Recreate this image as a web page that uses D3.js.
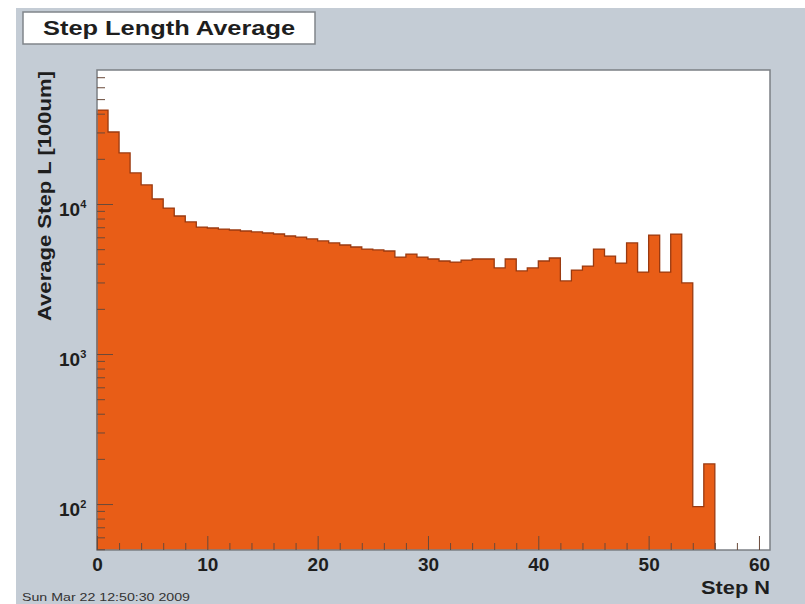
<!DOCTYPE html>
<html>
<head>
<meta charset="utf-8">
<script src="https://cdn.jsdelivr.net/npm/d3@7/dist/d3.min.js"></script>
<style>
  body { margin: 0; background: #fff; }
  text { font-family: "Liberation Sans", Arial, Helvetica, sans-serif; }
</style>
</head>
<body>
<div class="chart"></div>
<script>
// average step length per step number, one bin per step (bin i spans [i, i+1])
const avgStepL = [
  42300, 30200, 21900, 16100, 13400, 10800, 9400, 8320, 7590, 7020,
  6920, 6810, 6710, 6610, 6510, 6410, 6310, 6120, 6020, 5850,
  5670, 5500, 5330, 5170, 5010, 4940, 4860, 4430, 4640, 4430,
  4300, 4170, 4100, 4230, 4300, 4300, 3750, 4300, 3580, 3750,
  4170, 4365, 3070, 3630, 3860, 5010, 4500, 4040, 5500, 3520,
  6210, 3520, 6300, 2980, 96, 185
];
const xTickLabels = [0, 10, 20, 30, 40, 50, 60];
const yDecades = [100, 1000, 10000];
const yExponents = ["2", "3", "4"];
const titleText = "Step Length Average";
const xTitle = "Step N";
const yTitle = "Average Step L [100um]";
const dateText = "Sun Mar 22 12:50:30 2009";

const W = 805, H = 604;
const margin = { top: 70, right: 35, bottom: 54, left: 97 };
const orange = "#e85d17";
const ink = "#1e1e1e";

const svg = d3.select(".chart").append("svg")
  .attr("width", W).attr("height", H);

// canvas background
svg.append("rect").attr("x", 16).attr("y", 8)
  .attr("width", W - 16).attr("height", H - 8).attr("fill", "#c4ccd5");

// scales
const x = d3.scaleLinear().domain([0, 61]).range([margin.left, W - margin.right]);
const y = d3.scaleLog().domain([49.4, 78200]).range([H - margin.bottom, margin.top]);
const y0 = H - margin.bottom;

// plot frame
svg.append("rect")
  .attr("x", x(0)).attr("y", margin.top)
  .attr("width", x(61) - x(0)).attr("height", y0 - margin.top)
  .attr("fill", "#fff");

// histogram as one filled step area
const pts = avgStepL.map((d, i) => [i, d]);
pts.push([avgStepL.length, avgStepL[avgStepL.length - 1]]);
const area = d3.area()
  .x(d => x(d[0]))
  .y0(y0)
  .y1(d => y(d[1]))
  .curve(d3.curveStepAfter);
svg.append("path")
  .attr("d", area(pts))
  .attr("fill", orange);

// outline along the top of the histogram
const outline = d3.line()
  .x(d => x(d[0]))
  .y(d => y(d[1]))
  .curve(d3.curveStepAfter);
svg.append("path")
  .attr("d", `M${x(0)},${y0}L` + outline(pts).slice(1) + `L${x(avgStepL.length)},${y0}`)
  .attr("fill", "none")
  .attr("stroke", "#9a3a10")
  .attr("stroke-width", 1.3);

svg.append("rect")
  .attr("x", x(0)).attr("y", margin.top)
  .attr("width", x(61) - x(0)).attr("height", y0 - margin.top)
  .attr("fill", "none")
  .attr("stroke", "#7b7f84")
  .attr("stroke-width", 1.5);

// x axis: major and minor ticks drawn inward
const xMinor = d3.range(0, 61, 2).filter(v => v % 10 !== 0);
const xAxisMinor = svg.append("g")
  .attr("transform", `translate(0,${y0})`)
  .call(d3.axisBottom(x).tickValues(xMinor).tickSize(-7).tickFormat(""));
const xAxis = svg.append("g")
  .attr("transform", `translate(0,${y0})`)
  .call(d3.axisBottom(x).tickValues(xTickLabels).tickSize(-14).tickPadding(8));
xAxis.selectAll("text")
  .attr("fill", ink).style("font-size", "19px").style("font-weight", "bold");

// y axis
const yMinor = y.ticks().filter(v => !yDecades.includes(v));
const yAxisMinor = svg.append("g")
  .attr("transform", `translate(${x(0)},0)`)
  .call(d3.axisLeft(y).tickValues(yMinor).tickSize(-8).tickFormat(""));
const yAxis = svg.append("g")
  .attr("transform", `translate(${x(0)},0)`)
  .call(d3.axisLeft(y).tickValues(yDecades).tickSize(-16).tickFormat(""));

[xAxisMinor, xAxis, yAxisMinor, yAxis].forEach(g => {
  g.select(".domain").remove();
  g.selectAll("line").attr("stroke", "#6a4a3a").attr("stroke-width", 1);
});

// y tick labels 10^n
const yLab = svg.append("g").selectAll("text")
  .data(yDecades)
  .join("text")
  .attr("x", 59)
  .attr("y", d => y(d) + 12)
  .attr("fill", ink)
  .style("font-size", "19px")
  .style("font-weight", "bold");
yLab.append("tspan").text("10");
yLab.append("tspan")
  .attr("dy", -8)
  .style("font-size", "11px")
  .text((d, i) => yExponents[i]);

// axis titles
svg.append("text")
  .attr("x", W - margin.right)
  .attr("y", 594)
  .attr("text-anchor", "end")
  .attr("fill", ink)
  .attr("textLength", 69)
  .attr("lengthAdjust", "spacingAndGlyphs")
  .style("font-size", "19px").style("font-weight", "bold")
  .text(xTitle);

svg.append("text")
  .attr("transform", `translate(51,${margin.top + 1}) rotate(-90)`)
  .attr("text-anchor", "end")
  .attr("fill", ink)
  .attr("textLength", 250)
  .attr("lengthAdjust", "spacingAndGlyphs")
  .style("font-size", "19px").style("font-weight", "bold")
  .text(yTitle);

// title box
svg.append("rect")
  .attr("x", 23).attr("y", 12).attr("width", 292).attr("height", 32)
  .attr("fill", "#fff").attr("stroke", "#80858a").attr("stroke-width", 1.5);
svg.append("text")
  .attr("x", 43).attr("y", 35)
  .attr("fill", ink)
  .attr("textLength", 252)
  .attr("lengthAdjust", "spacingAndGlyphs")
  .style("font-size", "21px").style("font-weight", "bold")
  .text(titleText);

// date stamp
svg.append("text")
  .attr("x", 22).attr("y", 601)
  .attr("fill", "#333")
  .attr("textLength", 168)
  .attr("lengthAdjust", "spacingAndGlyphs")
  .style("font-size", "11px")
  .text(dateText);
</script>
</body>
</html>
